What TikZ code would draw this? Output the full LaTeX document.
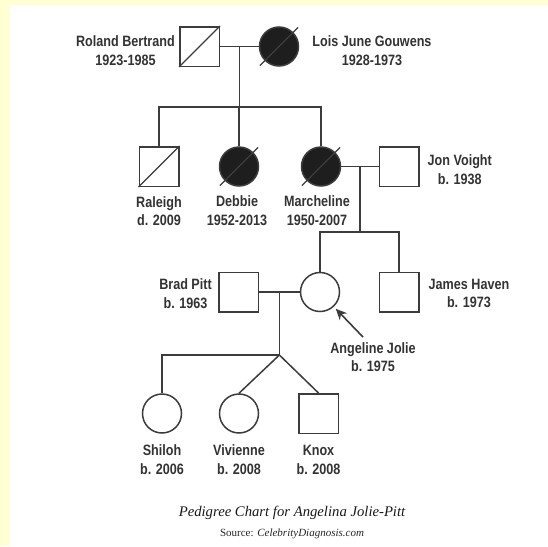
\documentclass[tikz,border=0pt]{standalone}
\usepackage{fontspec}
\newfontfamily\lblfont[FakeStretch=0.84]{Liberation Sans}
\newfontfamily\capfont{Liberation Serif}
\usetikzlibrary{positioning, arrows.meta, calc}
\definecolor{pedline}{HTML}{3C3C3C}
\definecolor{pedfill}{HTML}{1E1E1E}
\definecolor{pedtext}{HTML}{333333}
\definecolor{bgyellow}{HTML}{FFFFD2}
\tikzset{
x=1pt, y=1pt, % one unit is one pixel of the chart
node distance=80pt, % spacing between people in one row
line join=miter,
%
}
\tikzstyle{male} = [rectangle, draw=pedline, line width=1.5pt,
    minimum size=39.5pt, inner sep=0pt]
\tikzstyle{female} = [circle, draw=pedline, line width=1.5pt,
    minimum size=39pt, inner sep=0pt]
\tikzstyle{affected} = [fill=pedfill]
\tikzstyle{pname} = [align=center, inner sep=0pt, text=pedtext,
    font=\lblfont\bfseries\fontsize{15}{18.5}\selectfont]
\tikzstyle{link} = [draw=pedline, line width=1.5pt]
\tikzstyle{slash} = [draw=pedline, line width=1.3pt]
\tikzstyle{pointer} = [draw=pedline, line width=1.6pt, -{Stealth[length=11pt,width=10pt]}]

\begin{document}
\begin{tikzpicture}
\useasboundingbox (0,0) rectangle (548,-546);
\fill[bgyellow] (0,0) rectangle (548,-546);
\fill[white] (10,-5) rectangle (548,-546);

% grandparents
\node [male] (roland) at (199.5,-46.5) {};
\node [female, affected, right of=roland, node distance=79.5pt] (lois) {};
% children
\node [male] (raleigh) at (159,-166.5) {};
\node [female, affected, right of=raleigh] (debbie) {};
\node [female, affected, right of=debbie, node distance=82pt] (marcheline) {};
\node [male, right of=marcheline, node distance=78pt] (jon) {};
% grandchildren
\node [male] (brad) at (238.5,-292) {};
\node [female, right of=brad, node distance=81.5pt] (angelina) {};
\node [male, right of=angelina, node distance=79pt] (james) {};
% great grandchildren
\node [female] (shiloh) at (162,-413.5) {};
\node [female, right of=shiloh, node distance=77pt] (vivienne) {};
\node [male, right of=vivienne, node distance=79.5pt] (knox) {};

% deceased marks
\draw [slash] (roland.south west) -- (roland.north east);
\draw [slash] (raleigh.south west) -- (raleigh.north east);
\foreach \who in {lois, debbie, marcheline}
  \draw [slash] (\who.center) ++(-135:27pt) -- ++(45:54pt);

% names
\node [pname, left=4pt of roland, yshift=-4pt] (rolandname) {Roland Bertrand\\1923-1985};
\node [pname, right=13pt of lois, yshift=-4pt] (loisname) {Lois June Gouwens\\1928-1973};
\node [pname, below=9pt of raleigh] (raleighname) {Raleigh\\d. 2009};
\node [pname, below=9pt of debbie, xshift=-2pt] (debbiename) {Debbie\\1952-2013};
\node [pname, below=9pt of marcheline, xshift=-4pt] (marchelinename) {Marcheline\\1950-2007};
\node [pname, right=8pt of jon, yshift=-3pt] (jonname) {Jon Voight\\b. 1938};
\node [pname, left=6pt of brad, yshift=-1.5pt] (bradname) {Brad Pitt\\b. 1963};
\node [pname, right=9pt of james, yshift=-1.5pt] (jamesname) {James Haven\\b. 1973};
\node [pname] (angelinaname) at (373,-357) {Angeline Jolie\\b. 1975};
\node [pname, below=11pt of shiloh] (shilohname) {Shiloh\\b. 2006};
\node [pname, below=11pt of vivienne] (viviennename) {Vivienne\\b. 2008};
\node [pname, below=11pt of knox] (knoxname) {Knox\\b. 2008};

% marriages and descent
\path [link] (roland) -- (lois);
\coordinate (m1) at ($(roland.east)!0.5!(lois.west)$);
\coordinate (s1) at ($(m1)+(0,-60.5)$);
\path [link] (m1) -- (s1);
\path [link] (raleigh.north) |- (s1) -| (marcheline.north);
\path [link] (debbie.north |- s1) -- (debbie.north);

\path [link] (marcheline) -- (jon);
\coordinate (m2) at ($(marcheline.east)!0.5!(jon.west)$);
\coordinate (s2) at ($(m2)+(0,-65.5)$);
\path [link] (m2) -- (s2);
\path [link] (angelina.north) |- (s2) -| (james.north);

\path [link] (brad) -- (angelina);
\coordinate (m3) at ($(brad.east)!0.5!(angelina.west)$);
\coordinate (s3) at ($(m3)+(0,-63)$);
\path [link] (m3) -- (s3);
\path [link] (shiloh.north) |- (s3);
\path [link] (s3) -- (vivienne.north);
\path [link] (s3) -- (knox.north);

% proband
\draw [pointer] ([shift={(-10pt,5pt)}]angelinaname.north) -- ([shift={(2pt,-2pt)}]angelina.-47);

% caption
\node [font=\capfont\itshape\fontsize{14.7}{17}\selectfont, text=black!90] (title) at (292,-513)
  {Pedigree Chart for Angelina Jolie-Pitt};
\node [font=\capfont\fontsize{11}{13}\selectfont, text=black!85, below=2pt of title] (source)
  {Source: \textit{CelebrityDiagnosis.com}};
\end{tikzpicture}
\end{document}
